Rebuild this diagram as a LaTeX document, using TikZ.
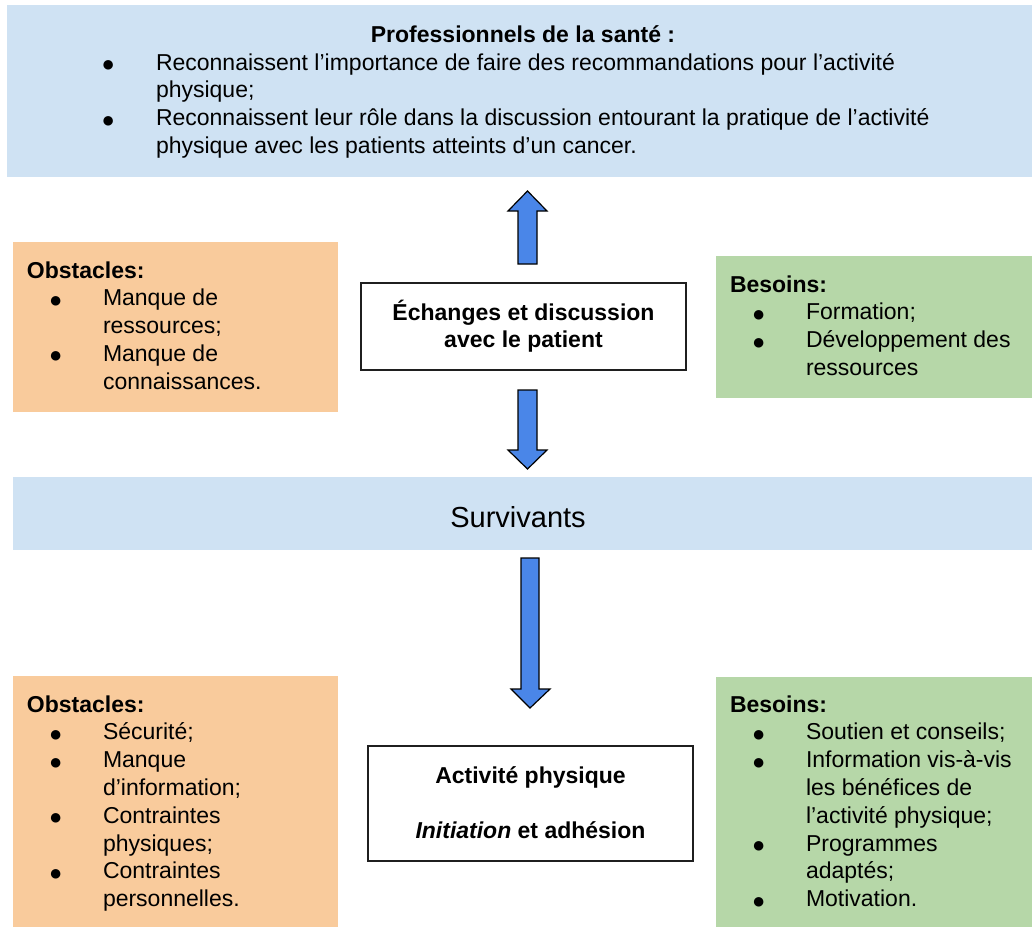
\documentclass[tikz,border=0pt]{standalone}
\usepackage{fontspec}
\setmainfont{Liberation Sans}
\definecolor{cblue}{HTML}{CFE2F3}
\definecolor{corange}{HTML}{F9CB9C}
\definecolor{cgreen}{HTML}{B6D7A8}
\definecolor{carrow}{HTML}{4A86E8}
\definecolor{cborder}{HTML}{1F1F1F}
\newcommand\fs{\vrule height 24pt depth 0pt width 0pt}
\newcommand\bdot{\raisebox{-1.5pt}{\fontsize{22}{22}\selectfont ●}}
\newcommand\bl{\makebox[76pt][l]{\hspace{22.2pt}\bdot}}
\newcommand\ind{\makebox[76pt]{}}
\newcommand\tbl{\makebox[52pt][l]{\hspace{-2.3pt}\bdot}}
\newcommand\tind{\makebox[52pt]{}}
\begin{document}
\begin{tikzpicture}[x=1pt,y=-1pt,
  fillbox/.style={inner sep=0pt, outer sep=0pt, anchor=north west},
  wbox/.style={draw=cborder, line width=1.5pt, fill=white, inner sep=0pt, outer sep=0pt, anchor=north west},
  txt/.style={inner sep=0pt, outer sep=0pt, font=\fontsize{23}{27.8}\selectfont, align=left, anchor=north west},
  ctxt/.style={inner sep=0pt, outer sep=0pt, font=\fontsize{23}{27.8}\selectfont\bfseries, align=center, anchor=north},
  barrow/.style={fill=carrow, draw=black, line width=1.2pt, line join=miter}]
\useasboundingbox (0,0) rectangle (1032,927);
\fill[white] (0,0) rectangle (1032,927);

% top box
\node[fillbox, fill=cblue, minimum width=1025pt, minimum height=172pt] (top) at (7,5) {};
\node[inner sep=0pt, font=\fontsize{23}{27.8}\selectfont\bfseries, anchor=base] (toptitle) at (523,42) {Professionnels de la santé :};
\node[txt] (toplist) at (104,46) {\fs\tbl Reconnaissent l’importance de faire des recommandations pour l’activité\\
\tind physique;\\
\tbl Reconnaissent leur rôle dans la discussion entourant la pratique de l’activité\\
\tind physique avec les patients atteints d’un cancer.};

% middle row
\node[fillbox, fill=corange, minimum width=325pt, minimum height=170pt] (obs1) at (13,242) {};
\node[txt] (obs1t) at (27,254) {\fs\textbf{Obstacles:}\\
\bl Manque de\\
\ind ressources;\\
\bl Manque de\\
\ind connaissances.};

\node[fillbox, fill=cgreen, minimum width=316pt, minimum height=142pt] (bes1) at (716,256) {};
\node[txt] (bes1t) at (730,268) {\fs\textbf{Besoins:}\\
\bl Formation;\\
\bl Développement des\\
\ind ressources};

\node[wbox, minimum width=325pt, minimum height=87pt] (ech) at (361,283) {};
\node[ctxt] (echt) at (523.5,296) {\fs Échanges et discussion\\avec le patient};

% survivants
\node[fillbox, fill=cblue, minimum width=1019pt, minimum height=73pt] (surv) at (13,477) {};
\node[inner sep=0pt, font=\fontsize{29}{34}\selectfont, anchor=base] (survt) at (518,527) {Survivants};

% bottom row
\node[fillbox, fill=corange, minimum width=325pt, minimum height=251pt] (obs2) at (13,676) {};
\node[txt] (obs2t) at (27,688) {\fs\textbf{Obstacles:}\\
\bl Sécurité;\\
\bl Manque\\
\ind d’information;\\
\bl Contraintes\\
\ind physiques;\\
\bl Contraintes\\
\ind personnelles.};

\node[fillbox, fill=cgreen, minimum width=316pt, minimum height=250pt] (bes2) at (716,677) {};
\node[txt] (bes2t) at (730,688) {\fs\textbf{Besoins:}\\
\bl Soutien et conseils;\\
\bl Information vis-à-vis\\
\ind les bénéfices de\\
\ind l’activité physique;\\
\bl Programmes\\
\ind adaptés;\\
\bl Motivation.};

\node[wbox, minimum width=325pt, minimum height=115pt] (act) at (368,746) {};
\node[ctxt] (actt) at (530.5,759) {\fs Activité physique\\[28pt]\textit{Initiation} et adhésion};

% block arrows
\draw[barrow] (518,264) -- (518,211) -- (508,211) -- (527.5,191) -- (547,211) -- (537,211) -- (537,264) -- cycle;
\draw[barrow] (518,390) -- (537,390) -- (537,450) -- (547,450) -- (527.5,469) -- (508,450) -- (518,450) -- cycle;
\draw[barrow] (521,558) -- (539,558) -- (539,689) -- (550,689) -- (530,708) -- (511,689) -- (521,689) -- cycle;
\end{tikzpicture}
\end{document}
